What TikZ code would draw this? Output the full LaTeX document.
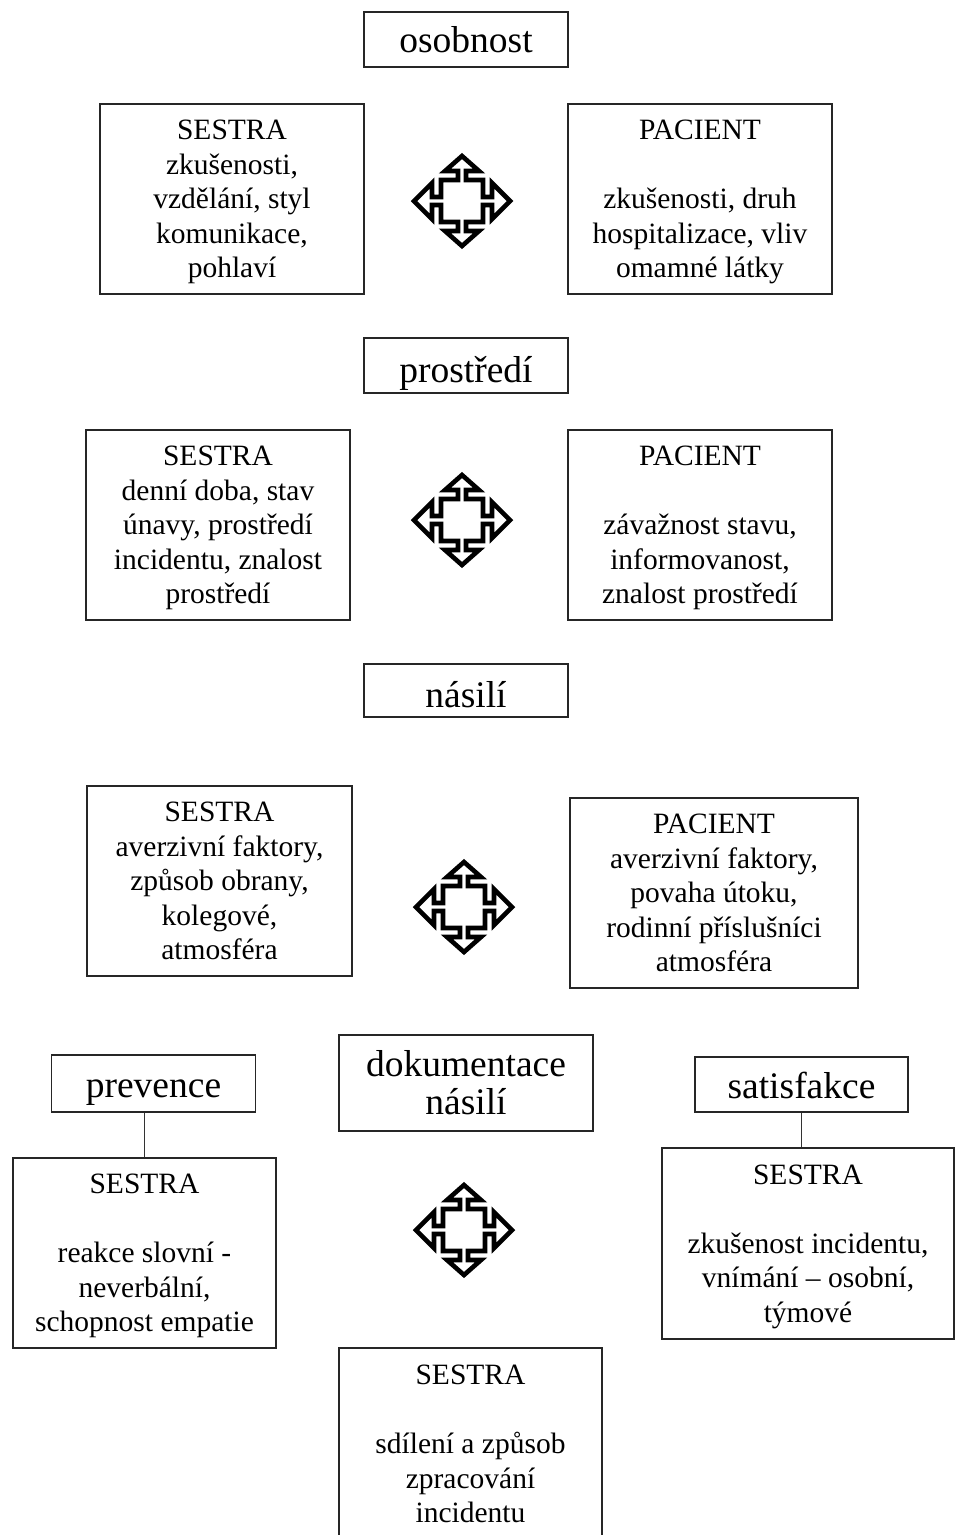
\documentclass[tikz,border=0pt]{standalone}
\usepackage{fontspec}
\setmainfont{Liberation Serif}
\usetikzlibrary{calc}
\newcommand\firststrut{\rule{0pt}{19pt}}
\tikzset{
  box/.style={draw=black!85, line width=1.4pt, inner sep=0pt, align=center, fill=white,
    text depth=0pt, font=\fontsize{29.5}{34.5}\selectfont},
  lblbase/.style={draw=black!85, line width=1.4pt, inner sep=0pt, align=center, fill=white,
    font=\fontsize{37.5}{38}\selectfont},
  lbl/.style={lblbase, text depth=8pt, text height=#1},
  conn/.style={draw=black!80, line width=1.4pt},
  quad/.pic={
    \draw[line width=4.6pt, line join=miter, miter limit=3, fill=white]
      (0,-45) -- (17,-30) -- (4,-30) -- (4,-21) -- (21,-21) -- (21,-4) -- (30,-4) -- (30,-18)
      -- (48,0) -- (30,18) -- (30,4) -- (21,4) -- (21,21) -- (4,21) -- (4,30) -- (17,30)
      -- (0,45) -- (-17,30) -- (-4,30) -- (-4,21) -- (-21,21) -- (-21,4) -- (-30,4) -- (-30,18)
      -- (-48,0) -- (-30,-18) -- (-30,-4) -- (-21,-4) -- (-21,-21) -- (-4,-21) -- (-4,-30) -- (-17,-30)
      -- cycle;
  }
}
\begin{document}
\begin{tikzpicture}[x=1pt,y=-1pt]
\useasboundingbox (0,0) rectangle (955,1535);
\clip (0,0) rectangle (955,1535);
\fill[white] (0,0) rectangle (955,1535);

% section 1
\node[lbl=33pt, minimum width=204pt, minimum height=55pt] (osob) at (466,39.5) {osobnost};
\node[box, minimum width=264pt, minimum height=190pt] (s1) at (232,199)
  {\firststrut SESTRA\\zkušenosti,\\vzdělání, styl\\komunikace,\\pohlaví};
\node[box, minimum width=264pt, minimum height=190pt] (p1) at (700,199)
  {\firststrut PACIENT\\[34.5pt]zkušenosti, druh\\hospitalizace, vliv\\omamné látky};
\pic at (462,201) {quad};

% section 2
\node[lbl=41pt, minimum width=204pt, minimum height=55pt] (prost) at (466,365.5) {prostředí};
\node[box, minimum width=264pt, minimum height=190pt] (s2) at (218,525)
  {\firststrut SESTRA\\denní doba, stav\\únavy, prostředí\\incidentu, znalost\\prostředí};
\node[box, minimum width=264pt, minimum height=190pt] (p2) at (700,525)
  {\firststrut PACIENT\\[34.5pt]závažnost stavu,\\informovanost,\\znalost prostředí};
\pic at (462,520) {quad};

% section 3
\node[lbl=41pt, minimum width=204pt, minimum height=53pt] (nas) at (466,690.5) {násilí};
\node[box, minimum width=265pt, minimum height=190pt] (s3) at (219.5,881)
  {\firststrut SESTRA\\averzivní faktory,\\způsob obrany,\\kolegové,\\atmosféra};
\node[box, minimum width=288pt, minimum height=190pt] (p3) at (714,893)
  {\firststrut PACIENT\\averzivní faktory,\\povaha útoku,\\rodinní příslušníci\\atmosféra};
\pic at (464,907) {quad};

% section 4
\node[lblbase, minimum width=254pt, minimum height=96pt] (dok) at (466,1083) {dokumentace\\násilí};
\node[lbl=35pt, minimum width=204pt, minimum height=57pt] (prev) at (153.5,1083.5) {prevence};
\node[box, minimum width=263pt, minimum height=190pt] (s4) at (144.5,1253)
  {\firststrut SESTRA\\[34.5pt]reakce slovní -\\neverbální,\\schopnost empatie};
\node[lbl=35pt, minimum width=213pt, minimum height=55pt] (sat) at (801.5,1084.5) {satisfakce};
\node[box, minimum width=292pt, minimum height=191pt] (s5) at (808,1243.5)
  {\firststrut SESTRA\\[34.5pt]zkušenost incidentu,\\vnímání – osobní,\\týmové};
\node[box, minimum width=263pt, minimum height=192pt] (s6) at (470.5,1444)
  {\firststrut SESTRA\\[34.5pt]sdílení a způsob\\zpracování\\incidentu};
\pic at (464,1230) {quad};

\draw[conn] (s4.north) -- (s4.north |- prev.south);
\draw[conn] (sat.south) -- (sat.south |- s5.north);
\end{tikzpicture}
\end{document}
